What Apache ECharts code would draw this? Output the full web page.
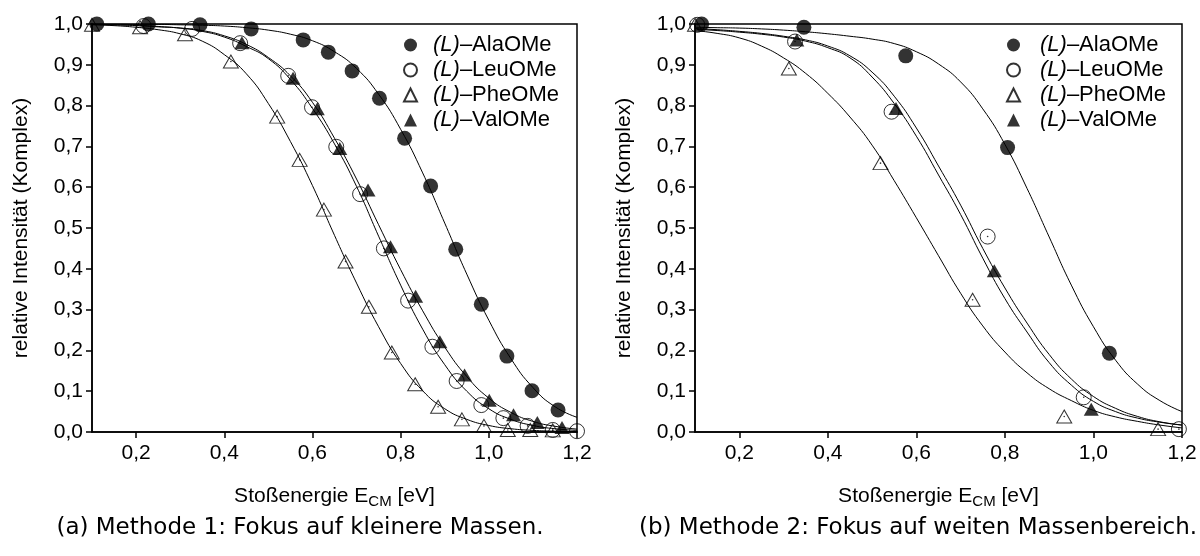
<!DOCTYPE html>
<html><head><meta charset="utf-8">
<script src="https://cdn.jsdelivr.net/npm/echarts@6.0.0/dist/echarts.min.js"></script>
<style>html,body{margin:0;padding:0;background:#fff}#c{width:1200px;height:556px}</style>
</head><body><div id="c"></div>
<script>
// ---------- data ----------
const LEGEND_NAMES = ['(L)–AlaOMe', '(L)–LeuOMe', '(L)–PheOMe', '(L)–ValOMe'];
const X_TICKS = [0.2, 0.4, 0.6, 0.8, 1.0, 1.2];
const X_TITLE = 'Stoßenergie E{sub|CM} [eV]';
const Y_TITLE = 'relative Intensität (Komplex)';
const CAPTION_A = '(a) Methode 1: Fokus auf kleinere Massen.';
const CAPTION_B = '(b) Methode 2: Fokus auf weiten Massenbereich.';

// Methode 1 – measured points [E_CM, rel. intensity]
const m1_ala = [[0.111,1.000],[0.228,1.000],[0.345,0.998],[0.461,0.988],[0.579,0.961],[0.636,0.931],[0.690,0.885],[0.752,0.818],[0.809,0.720],[0.868,0.603],[0.925,0.448],[0.983,0.313],[1.041,0.186],[1.098,0.101],[1.157,0.054]];
const m1_leu = [[0.217,0.995],[0.327,0.988],[0.436,0.953],[0.545,0.873],[0.599,0.796],[0.654,0.699],[0.708,0.583],[0.762,0.450],[0.817,0.322],[0.872,0.209],[0.927,0.125],[0.983,0.066],[1.033,0.034],[1.088,0.015],[1.145,0.005],[1.200,0.002]];
const m1_phe = [[0.100,0.998],[0.209,0.992],[0.311,0.975],[0.415,0.908],[0.520,0.773],[0.571,0.667],[0.626,0.545],[0.675,0.418],[0.728,0.307],[0.780,0.195],[0.833,0.117],[0.885,0.062],[0.939,0.031],[0.989,0.015],[1.043,0.005],[1.094,0.005],[1.145,0.004]];
const m1_val = [[0.440,0.954],[0.556,0.867],[0.611,0.792],[0.662,0.695],[0.726,0.593],[0.777,0.454],[0.834,0.333],[0.889,0.221],[0.945,0.140],[1.001,0.078],[1.056,0.042],[1.110,0.023],[1.166,0.011]];

// Methode 2 – measured points
const m2_ala = [[0.115,1.000],[0.346,0.992],[0.576,0.922],[0.806,0.697],[1.036,0.193]];
const m2_leu = [[0.105,0.998],[0.326,0.957],[0.544,0.785],[0.761,0.479],[0.978,0.085],[1.193,0.007]];
const m2_phe = [[0.100,0.998],[0.312,0.891],[0.519,0.659],[0.727,0.324],[0.934,0.038],[1.146,0.007]];
const m2_val = [[0.330,0.961],[0.554,0.793],[0.776,0.395],[0.995,0.056]];

// fitted curves at these energies
const FIT_E = [0.10,0.15,0.20,0.25,0.30,0.35,0.40,0.45,0.50,0.55,0.60,0.65,0.70,0.75,0.80,0.85,0.90,0.95,1.00,1.05,1.10,1.15,1.20];
const m1_fit_ala = [1.000,1.000,0.999,0.999,0.998,0.997,0.995,0.991,0.985,0.975,0.959,0.932,0.891,0.828,0.742,0.635,0.512,0.387,0.274,0.180,0.109,0.062,0.036];
const m1_fit_leu = [0.999,0.998,0.996,0.993,0.990,0.982,0.968,0.945,0.915,0.864,0.793,0.706,0.602,0.480,0.360,0.252,0.165,0.100,0.057,0.031,0.016,0.008,0.004];
const m1_fit_phe = [0.998,0.996,0.992,0.986,0.976,0.958,0.925,0.878,0.805,0.712,0.604,0.482,0.365,0.258,0.168,0.101,0.057,0.031,0.016,0.008,0.004,0.002,0.001];
const m1_fit_val = [0.999,0.998,0.997,0.994,0.990,0.984,0.971,0.950,0.918,0.873,0.808,0.720,0.620,0.508,0.398,0.297,0.208,0.136,0.083,0.048,0.026,0.014,0.007];
const m2_fit_ala = [0.992,0.991,0.990,0.988,0.985,0.981,0.976,0.970,0.963,0.952,0.932,0.902,0.858,0.792,0.705,0.597,0.478,0.360,0.258,0.176,0.117,0.077,0.050];
const m2_fit_leu = [0.989,0.986,0.982,0.977,0.970,0.961,0.946,0.922,0.882,0.823,0.745,0.652,0.556,0.450,0.353,0.267,0.190,0.130,0.087,0.058,0.038,0.025,0.017];
const m2_fit_phe = [0.984,0.977,0.966,0.946,0.917,0.879,0.830,0.772,0.703,0.616,0.525,0.432,0.340,0.260,0.196,0.145,0.106,0.077,0.053,0.037,0.026,0.017,0.010];
const m2_fit_val = [0.987,0.984,0.980,0.975,0.968,0.958,0.942,0.917,0.870,0.805,0.725,0.630,0.533,0.426,0.327,0.245,0.170,0.115,0.075,0.050,0.034,0.024,0.017];

// ---------- chart ----------
const FONT = '"Liberation Sans", Arial, sans-serif';
const fmt = v => v.toFixed(1).replace('.', ',');

const STYLES = {
  ala: {symbol:'circle', size:15, item:{color:'#000'}},
  leu: {symbol:'circle', size:15, item:{color:'rgba(0,0,0,0)', borderColor:'#000', borderWidth:1}},
  phe: {symbol:'triangle', size:[15,13], item:{color:'rgba(0,0,0,0)', borderColor:'#000', borderWidth:1}},
  val: {symbol:'triangle', size:[15,13], item:{color:'#000'}}
};

function fitLine(gi, ys) {
  return {type:'line', xAxisIndex:gi, yAxisIndex:gi, data: FIT_E.map((x,i)=>[x, ys[i]]),
    smooth:0.5, showSymbol:false, symbol:'none', silent:true, z:2,
    lineStyle:{color:'#000', width:1}};
}
function pts(gi, name, key, data) {
  const s = STYLES[key];
  return {type:'scatter', name:name, xAxisIndex:gi, yAxisIndex:gi, data:data,
    symbol:s.symbol, symbolSize:s.size, itemStyle:s.item, silent:true, z:3};
}
function dots(gi, data) {
  return {type:'scatter', xAxisIndex:gi, yAxisIndex:gi, data:data, symbol:'circle', symbolSize:1.6,
    itemStyle:{color:'#000'}, silent:true, z:4};
}
function xAxis(gi) {
  return {gridIndex:gi, type:'value', min:0.1, max:1.2,
    axisLine:{show:true, onZero:false, lineStyle:{color:'#000', width:1.5}},
    axisTick:{show:true, length:6, customValues:X_TICKS, lineStyle:{color:'#000', width:1.5}},
    axisLabel:{customValues:X_TICKS, formatter:fmt, fontSize:21, color:'#000', fontFamily:FONT, margin:11},
    splitLine:{show:false},
    name:X_TITLE, nameLocation:'middle', nameGap:51,
    nameTextStyle:{fontSize:21, color:'#000', fontFamily:FONT, lineHeight:26,
      rich:{sub:{fontSize:15, lineHeight:15, verticalAlign:'bottom', color:'#000', fontFamily:FONT}}}};
}
function yAxis(gi) {
  return {gridIndex:gi, type:'value', min:0, max:1, interval:0.1,
    axisLine:{show:true, onZero:false, lineStyle:{color:'#000', width:1.5}},
    axisTick:{show:true, length:6, lineStyle:{color:'#000', width:1.5}},
    axisLabel:{formatter:fmt, fontSize:21, color:'#000', fontFamily:FONT, margin:9},
    splitLine:{show:false},
    name:Y_TITLE, nameLocation:'middle', nameGap:60,
    nameTextStyle:{fontSize:21, color:'#000', fontFamily:FONT}};
}
function legend(left, pad) {
  return {left:left, top:34, padding:0, orient:'vertical', itemWidth:13, itemHeight:13, itemGap:3,
    selectedMode:false, data:LEGEND_NAMES,
    formatter: n => '{i|(L)}' + n.slice(3),
    textStyle:{fontSize:22, lineHeight:22, color:'#000', fontFamily:FONT, padding:[0,0,0,pad],
      rich:{i:{fontStyle:'italic', fontSize:22, lineHeight:22, color:'#000', fontFamily:FONT}}}};
}

const chart = echarts.init(document.getElementById('c'), null, {renderer:'canvas'});
chart.setOption({
  backgroundColor:'#fff',
  animation:false,
  grid:[
    {left:92, top:24, width:485, height:408, show:true, borderColor:'#000', borderWidth:1.5, backgroundColor:'transparent'},
    {left:695, top:24, width:487, height:408, show:true, borderColor:'#000', borderWidth:1.5, backgroundColor:'transparent'}
  ],
  xAxis:[xAxis(0), xAxis(1)],
  yAxis:[yAxis(0), yAxis(1)],
  legend:[legend(403, 11), legend(1006, 15)],
  graphic:[
    {type:'text', x:300, y:517, style:{text:CAPTION_A, font:'23px "DejaVu Sans"', fill:'#000', align:'center'}},
    {type:'text', x:918, y:517, style:{text:CAPTION_B, font:'23px "DejaVu Sans"', fill:'#000', align:'center'}}
  ],
  series:[
    fitLine(0, m1_fit_ala), fitLine(0, m1_fit_leu), fitLine(0, m1_fit_phe), fitLine(0, m1_fit_val),
    pts(0, LEGEND_NAMES[0], 'ala', m1_ala), pts(0, LEGEND_NAMES[1], 'leu', m1_leu),
    pts(0, LEGEND_NAMES[2], 'phe', m1_phe), pts(0, LEGEND_NAMES[3], 'val', m1_val),
    dots(0, m1_leu), dots(0, m1_phe),
    fitLine(1, m2_fit_ala), fitLine(1, m2_fit_leu), fitLine(1, m2_fit_phe), fitLine(1, m2_fit_val),
    pts(1, LEGEND_NAMES[0], 'ala', m2_ala), pts(1, LEGEND_NAMES[1], 'leu', m2_leu),
    pts(1, LEGEND_NAMES[2], 'phe', m2_phe), pts(1, LEGEND_NAMES[3], 'val', m2_val),
    dots(1, m2_leu), dots(1, m2_phe)
  ]
});
</script></body></html>
